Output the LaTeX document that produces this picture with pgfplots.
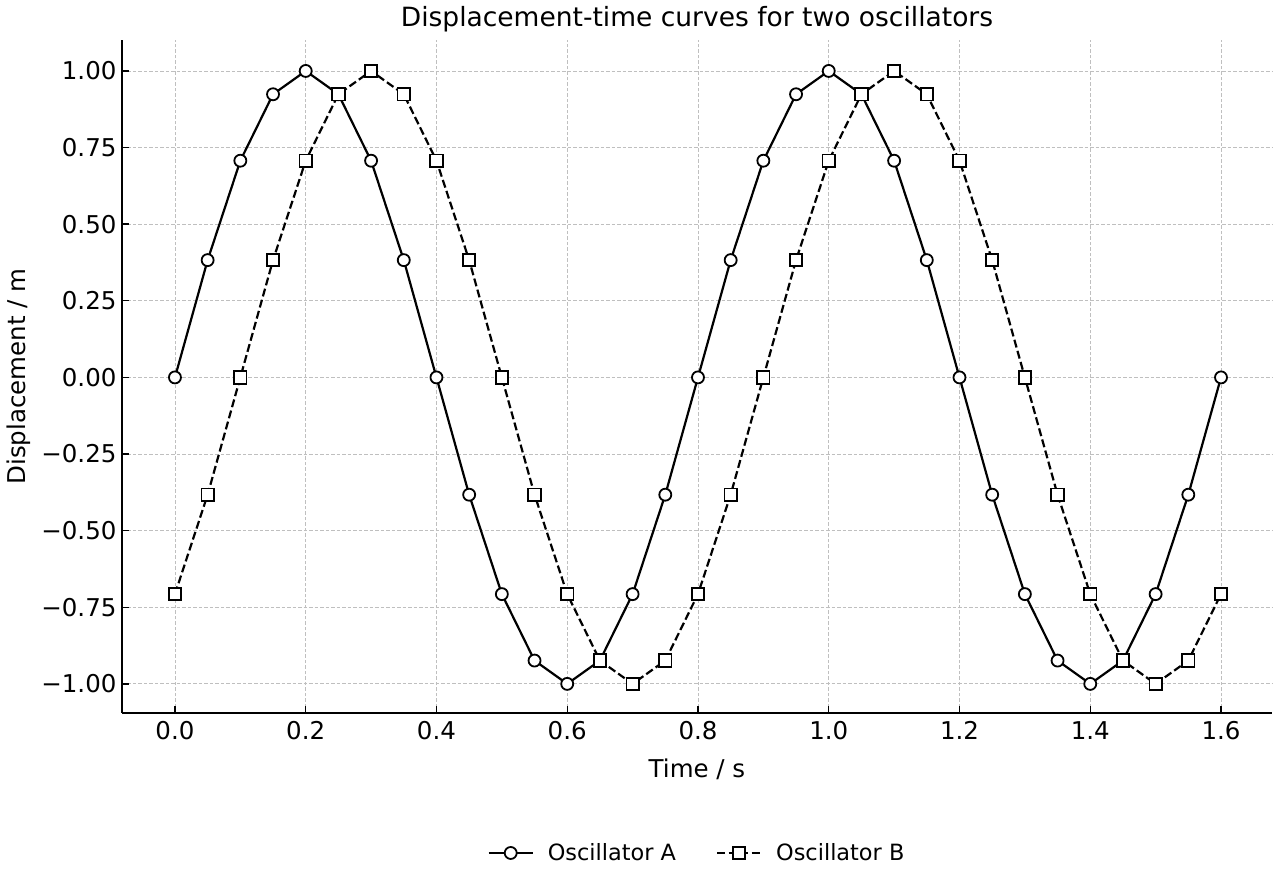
\documentclass[border=0pt]{standalone}
\usepackage{pgfplots}
\pgfplotsset{compat=1.18}
\usepackage{fontspec}
\setmainfont{DejaVu Sans}
\begin{document}
\begin{tikzpicture}[x=1pt,y=1pt]
\begin{axis}[
  scale only axis,
  width=1150pt, height=673pt,
  xmin=-0.081, xmax=1.678,
  ymin=-1.095, ymax=1.101,
  axis lines*=left,
  axis line style={line width=1.8pt, black},
  tick align=inside,
  major tick length=7pt,
  tick style={line width=1.4pt, black},
  xtick={0,0.2,0.4,0.6,0.8,1.0,1.2,1.4,1.6},
  xticklabels={0.0,0.2,0.4,0.6,0.8,1.0,1.2,1.4,1.6},
  ytick={-1,-0.75,-0.5,-0.25,0,0.25,0.5,0.75,1},
  yticklabels={−1.00,−0.75,−0.50,−0.25,0.00,0.25,0.50,0.75,1.00},
  ticklabel style={font=\fontsize{24.5}{28}\selectfont},
  xticklabel style={yshift=-5pt},
  yticklabel style={xshift=-2pt},
  grid=major,
  grid style={gray!50, dash pattern=on 3.5pt off 2pt, line width=0.8pt},
  xlabel={Time / s},
  ylabel={Displacement / m},
  label style={font=\fontsize{24.5}{28}\selectfont},
  xlabel style={yshift=-12pt},
  ylabel style={yshift=4pt},
  title={Displacement-time curves for two oscillators},
  title style={font=\fontsize{26.5}{30}\selectfont, yshift=-2pt},
  legend style={at={(0.5,-0.208)}, anchor=center, draw=none, legend columns=2,
    font=\fontsize{22.4}{26}\selectfont, /tikz/every even column/.append style={column sep=38pt},
    /tikz/every odd column/.append style={column sep=12pt}},
  legend cell align=left,
  legend image code/.code={\draw[mark repeat=2,mark phase=2] plot coordinates {(0pt,0pt) (22pt,0pt) (44pt,0pt)};},
]
\addplot[black, line width=2.2pt, mark=*, mark size=6pt, mark options={fill=white, line width=1.8pt, solid}]
 coordinates {
(0,0) (0.05,0.3827) (0.1,0.7071) (0.15,0.9239) (0.2,1) (0.25,0.9239) (0.3,0.7071) (0.35,0.3827)
(0.4,0) (0.45,-0.3827) (0.5,-0.7071) (0.55,-0.9239) (0.6,-1) (0.65,-0.9239) (0.7,-0.7071) (0.75,-0.3827)
(0.8,0) (0.85,0.3827) (0.9,0.7071) (0.95,0.9239) (1.0,1) (1.05,0.9239) (1.1,0.7071) (1.15,0.3827)
(1.2,0) (1.25,-0.3827) (1.3,-0.7071) (1.35,-0.9239) (1.4,-1) (1.45,-0.9239) (1.5,-0.7071) (1.55,-0.3827)
(1.6,0)
};
\addlegendentry{Oscillator A}
\addplot[black, line width=2.2pt, dash pattern=on 8pt off 3.5pt, mark=square*, mark size=6.2pt, mark options={fill=white, line width=1.8pt, solid}]
 coordinates {
(0,-0.7071) (0.05,-0.3827) (0.1,0) (0.15,0.3827) (0.2,0.7071) (0.25,0.9239) (0.3,1) (0.35,0.9239)
(0.4,0.7071) (0.45,0.3827) (0.5,0) (0.55,-0.3827) (0.6,-0.7071) (0.65,-0.9239) (0.7,-1) (0.75,-0.9239)
(0.8,-0.7071) (0.85,-0.3827) (0.9,0) (0.95,0.3827) (1.0,0.7071) (1.05,0.9239) (1.1,1) (1.15,0.9239)
(1.2,0.7071) (1.25,0.3827) (1.3,0) (1.35,-0.3827) (1.4,-0.7071) (1.45,-0.9239) (1.5,-1) (1.55,-0.9239)
(1.6,-0.7071)
};
\addlegendentry{Oscillator B}
\end{axis}
\path[use as bounding box] (-122pt,-167pt) rectangle (1158pt,713pt);
\end{tikzpicture}
\end{document}
